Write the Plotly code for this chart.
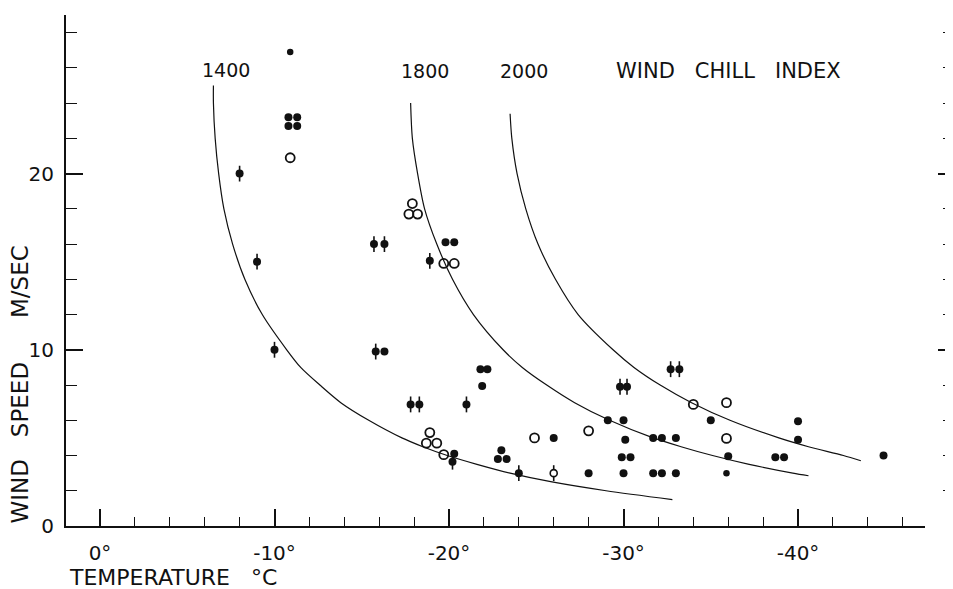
import plotly.graph_objects as go

# Wind chill index curves (temperature °C, wind speed m/s)
curve_1400_v = [25, 24, 22, 20, 18, 16, 14, 12, 10, 9, 8, 7, 6, 5, 4.5, 4, 3.5, 3, 2.5, 2, 1.5]
curve_1400_t = [-6.5, -6.5, -6.6, -6.8, -7.1, -7.6, -8.3, -9.3, -10.7, -11.5, -12.6, -13.8,
                -15.4, -17.3, -18.5, -19.9, -21.6, -23.5, -25.9, -29.0, -32.8]
curve_1800_v = [24, 22, 20, 18, 16, 14, 12, 10, 9, 8, 7, 6, 5, 4.5, 4, 3.5, 3, 2.85]
curve_1800_t = [-17.8, -17.9, -18.2, -18.6, -19.3, -20.2, -21.4, -23.1, -24.2, -25.6, -27.2,
                -29.2, -31.7, -33.3, -35.1, -37.2, -39.7, -40.6]
curve_2000_v = [23.4, 22, 20, 18, 16, 14, 12, 10, 9, 8, 7, 6, 5, 4.5, 4, 3.7]
curve_2000_t = [-23.5, -23.6, -23.9, -24.4, -25.1, -26.1, -27.4, -29.4, -30.6, -32.1, -33.9,
                -36.1, -38.9, -40.6, -42.6, -43.6]

# Filled points (no error bar)
filled_t = [-10.8, -11.3, -10.8, -11.3, -19.8, -20.3, -16.3, -21.8, -22.2, -21.9, -20.3,
            -23.0, -22.8, -23.3, -26.0, -28.0, -29.1, -30.0, -30.1, -29.9, -30.4, -30.0,
            -31.7, -32.2, -33.0, -31.7, -32.2, -33.0, -35.0, -36.0, -40.0, -40.0, -38.7,
            -39.2, -44.9]
filled_v = [23.2, 23.2, 22.7, 22.7, 16.1, 16.1, 9.9, 8.9, 8.9, 7.95, 4.1,
            4.3, 3.8, 3.8, 5.0, 3.0, 6.0, 6.0, 4.9, 3.9, 3.9, 3.0,
            5.0, 5.0, 5.0, 3.0, 3.0, 3.0, 6.0, 3.96, 5.95, 4.9, 3.9,
            3.9, 4.0]
# Small filled points
small_t = [-10.9, -35.9]
small_v = [26.9, 3.0]
# Filled points with error bars
bar_t = [-8.0, -9.0, -10.0, -15.7, -16.3, -15.8, -17.8, -18.3, -21.0, -18.9, -20.2,
         -24.0, -29.8, -30.2, -32.7, -33.2]
bar_v = [20.0, 15.0, 10.0, 16.0, 16.0, 9.9, 6.9, 6.9, 6.9, 15.05, 3.65,
         3.0, 7.9, 7.9, 8.9, 8.9]
# Open point with error bar
obar_t = [-26.0]
obar_v = [3.0]
# Open circles
open_t = [-10.9, -17.9, -17.7, -18.2, -19.7, -20.3, -18.9, -18.7, -19.3, -19.7,
          -24.9, -28.0, -34.0, -35.9, -35.9]
open_v = [20.9, 18.3, 17.7, 17.7, 14.9, 14.9, 5.3, 4.7, 4.7, 4.05,
          5.0, 5.4, 6.9, 7.0, 4.97]

x_tickvals = [0, -10, -20, -30, -40]
x_ticktext = ["0°", "-10°", "-20°", "-30°", "-40°"]
y_tickvals = [0, 10, 20]
y_ticktext = ["0", "10", "20"]
curve_labels = ["1400", "1800", "2000"]

FONT = "DejaVu Sans, Liberation Sans, sans-serif"
BLACK = "#111111"
NB = "\u00a0"

fig = go.Figure()

for t, v in [(curve_1400_t, curve_1400_v), (curve_1800_t, curve_1800_v),
             (curve_2000_t, curve_2000_v)]:
    fig.add_trace(go.Scatter(x=t, y=v, mode="lines", line=dict(color=BLACK, width=1.2,
                             shape="spline", smoothing=0.8), hoverinfo="skip"))

fig.add_trace(go.Scatter(x=bar_t, y=bar_v, mode="markers",
                         marker=dict(symbol="circle", size=8, color=BLACK),
                         error_y=dict(type="constant", value=0.45, width=0,
                                      thickness=1.6, color=BLACK)))
fig.add_trace(go.Scatter(x=obar_t, y=obar_v, mode="markers",
                         marker=dict(symbol="circle", size=7, color="white",
                                     line=dict(color=BLACK, width=1.6)),
                         error_y=dict(type="constant", value=0.45, width=0,
                                      thickness=1.6, color=BLACK)))
fig.add_trace(go.Scatter(x=filled_t, y=filled_v, mode="markers",
                         marker=dict(symbol="circle", size=8, color=BLACK)))
fig.add_trace(go.Scatter(x=small_t, y=small_v, mode="markers",
                         marker=dict(symbol="circle", size=6.5, color=BLACK)))
fig.add_trace(go.Scatter(x=open_t, y=open_v, mode="markers",
                         marker=dict(symbol="circle-open", size=9, color=BLACK,
                                     line=dict(color=BLACK, width=1.8))))

# curve labels
label_t = [-7.2, -18.65, -24.3]
label_v = [25.9, 25.85, 25.8]
for txt, t, v in zip(curve_labels, label_t, label_v):
    fig.add_annotation(x=t, y=v, text=txt, showarrow=False,
                       font=dict(family=FONT, size=19, color=BLACK))
fig.add_annotation(x=-36.0, y=25.8, text="WIND" + NB * 3 + "CHILL" + NB * 3 + "INDEX",
                   showarrow=False, font=dict(family=FONT, size=21, color=BLACK))

# axis titles
fig.add_annotation(xref="paper", yref="paper", x=0, y=0, xanchor="left", yanchor="middle",
                   yshift=-51, xshift=1,
                   text="TEMPERATURE" + NB * 3 + "°C", showarrow=False,
                   font=dict(family=FONT, size=22, color=BLACK))
fig.add_annotation(xref="paper", yref="paper", x=0, y=0, xanchor="center", yanchor="middle",
                   xshift=-46.5, yshift=141, textangle=-90,
                   text="WIND" + NB * 3 + "SPEED" + NB * 6 + "M/SEC", showarrow=False,
                   font=dict(family=FONT, size=23, color=BLACK))

# page body has an 8px margin, so the figure is 8px smaller and margins shifted
fig.update_layout(
    width=945, height=581,
    margin=dict(l=58, r=0, t=7, b=63),
    paper_bgcolor="white", plot_bgcolor="white",
    showlegend=False,
    xaxis=dict(range=[1.948, -47.3], domain=[0, 0.9689],
               showgrid=False, zeroline=False,
               showline=True, linecolor=BLACK, linewidth=2,
               tickvals=x_tickvals, ticktext=x_ticktext,
               ticks="inside", ticklen=17, tickwidth=1.5, tickcolor=BLACK,
               minor=dict(dtick=2, tick0=0, ticks="inside", ticklen=9, tickwidth=1.3,
                          tickcolor=BLACK),
               ticklabelstandoff=8,
               tickfont=dict(family=FONT, size=20, color=BLACK)),
    yaxis=dict(range=[0, 29], showgrid=False, zeroline=False,
               showline=True, linecolor=BLACK, linewidth=2,
               tickvals=y_tickvals, ticktext=y_ticktext,
               ticks="inside", ticklen=17, tickwidth=1.5, tickcolor=BLACK,
               minor=dict(dtick=2, tick0=0, ticks="inside", ticklen=11, tickwidth=1.3,
                          tickcolor=BLACK),
               ticklabelstandoff=6,
               tickfont=dict(family=FONT, size=20, color=BLACK)),
    yaxis2=dict(range=[0, 29], overlaying="y", side="right", anchor="free", position=1,
                showgrid=False, zeroline=False, showline=False,
                showticklabels=False, tick0=0, dtick=10,
                ticks="inside", ticklen=15, tickwidth=1.5, tickcolor=BLACK,
                minor=dict(dtick=2, tick0=0, ticks="inside", ticklen=10, tickwidth=1.3,
                           tickcolor=BLACK)),
)
# invisible trace to activate the right-hand tick axis
fig.add_trace(go.Scatter(x=[None], y=[None], yaxis="y2", mode="markers", hoverinfo="skip"))

fig.write_html("out.html")
